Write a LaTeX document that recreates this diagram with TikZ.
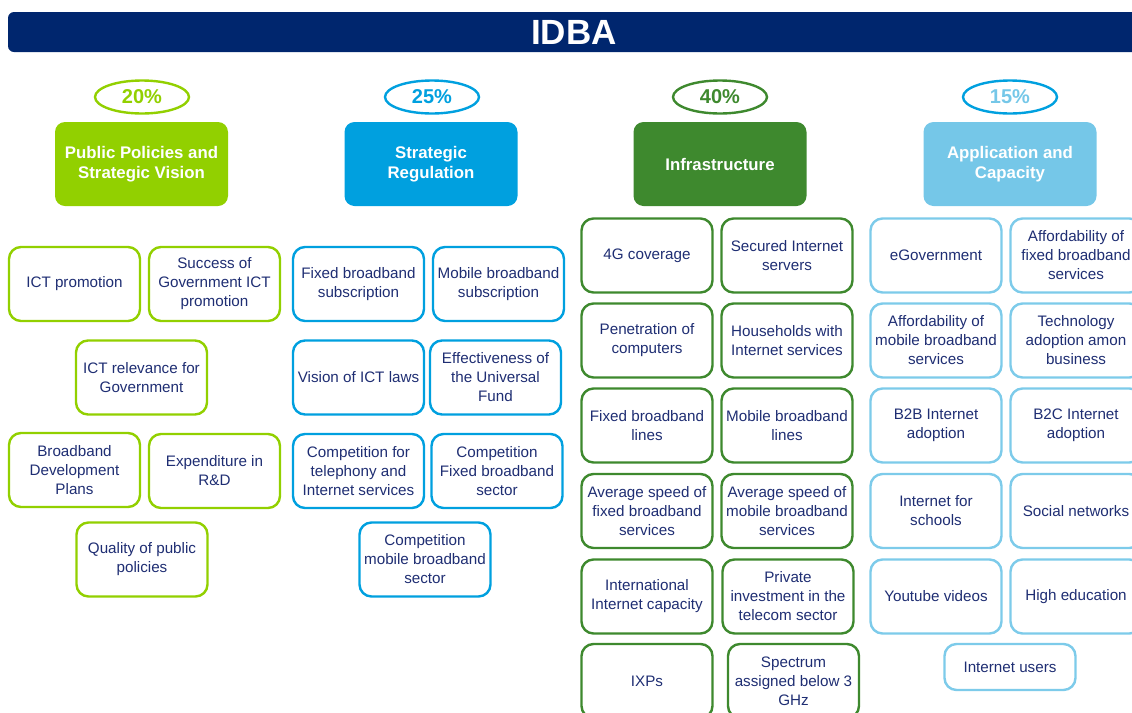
\documentclass[tikz,border=0pt]{standalone}
\usepackage{fontspec}
\setmainfont{Liberation Sans}
\usepackage{tikz}
\usetikzlibrary{shapes.geometric}
\definecolor{idbanavy}{RGB}{0,38,110}
\definecolor{txtnavy}{RGB}{31,46,115}
\definecolor{limeC}{RGB}{146,208,0}
\definecolor{blueC}{RGB}{0,160,223}
\definecolor{greenC}{RGB}{62,137,46}
\definecolor{lblueC}{RGB}{117,199,232}
\definecolor{lblueB}{RGB}{125,203,234}

\begin{document}
\begin{tikzpicture}[
    x=0.5pt, y=-0.5pt,
    headbar/.style={fill=idbanavy, rounded corners=3pt, minimum width=566pt, minimum height=20pt,
        text=white, font=\bfseries\fontsize{17.5}{17.5}\selectfont},
    pct/.style={ellipse, draw, line width=1.2pt, minimum width=47pt, minimum height=16.5pt,
        inner sep=0pt, font=\bfseries\fontsize{10}{10}\selectfont},
    cat/.style={rounded corners=5pt, minimum width=86.5pt, minimum height=42pt, inner sep=1pt,
        text=white, align=center, font=\bfseries\fontsize{8.4}{10}\selectfont},
    item/.style={draw, line width=1.2pt, rounded corners=6pt, fill=white, minimum width=65.5pt,
        minimum height=37pt, inner sep=1pt, align=center, text=txtnavy,
        font=\fontsize{7.6}{9.5}\selectfont}
]
\useasboundingbox (0,0) rectangle (1132,713);

% Titulo
\node[headbar] (idba) at (574,32) {IDBA};

% Pesos
\node[pct, draw=limeC, text=limeC] (w-pp) at (142,97) {20\%};
\node[pct, draw=blueC, text=blueC] (w-sr) at (432,97) {25\%};
\node[pct, draw=greenC, text=greenC] (w-in) at (720,97) {40\%};
\node[pct, draw=blueC, text=lblueC] (w-ac) at (1010,97) {15\%};

% Pilares
\node[cat, fill=limeC] (pp) at (141.5,164) {Public Policies and\\Strategic Vision};
\node[cat, fill=blueC] (sr) at (431,164) {Strategic\\Regulation};
\node[cat, fill=greenC] (in) at (720,164) {Infrastructure};
\node[cat, fill=lblueC] (ac) at (1010,164) {Application and\\Capacity};

% Indicadores: politicas publicas
\foreach \nm/\x/\y/\txt in {1/74.5/284/{ICT promotion},
    2/214.5/284/{Success of\\Government ICT\\promotion},
    3/141.5/377.5/{ICT relevance for\\Government},
    4/74.5/470/{Broadband\\Development\\Plans},
    5/214.5/471/{Expenditure in\\R\&D},
    6/142/559.5/{Quality of public\\policies}} {
    \node[item, draw=limeC] (pp-\nm) at (\x,\y) {\txt};
}

% Indicadores: regulacion
\foreach \nm/\x/\y/\txt in {1/358.5/284/{Fixed broadband\\subscription},
    2/498.5/284/{Mobile broadband\\subscription},
    3/358.5/377.5/{Vision of ICT laws},
    4/495.5/377.5/{Effectiveness of\\the Universal\\Fund},
    5/358.5/471/{Competition for\\telephony and\\Internet services},
    6/497/471/{Competition\\Fixed broadband\\sector},
    7/425/559.5/{Competition\\mobile broadband\\sector}} {
    \node[item, draw=blueC] (sr-\nm) at (\x,\y) {\txt};
}

% Indicadores: infraestructura
\foreach \nm/\x/\y/\txt in {1/647/255.5/{4G coverage},
    2/787/255.5/{Secured Internet\\servers},
    3/647/340.5/{Penetration of\\computers},
    4/787/340.5/{Households with\\Internet services},
    5/647/425.5/{Fixed broadband\\lines},
    6/787/425.5/{Mobile broadband\\lines},
    7/647/511/{Average speed of\\fixed broadband\\services},
    8/787/511/{Average speed of\\mobile broadband\\services},
    9/647/596.5/{International\\Internet capacity},
    10/788/596.5/{Private\\investment in the\\telecom sector},
    11/647/681/{IXPs},
    12/793.5/681/{Spectrum\\assigned below 3\\GHz}} {
    \node[item, draw=greenC] (in-\nm) at (\x,\y) {\txt};
}

% Indicadores: aplicaciones
\foreach \nm/\x/\y/\txt in {1/936/255.5/{eGovernment},
    2/1076/255.5/{Affordability of\\fixed broadband\\services},
    3/936/340.5/{Affordability of\\mobile broadband\\services},
    4/1076/340.5/{Technology\\adoption amon\\business},
    5/936/425.5/{B2B Internet\\adoption},
    6/1076/425.5/{B2C Internet\\adoption},
    7/936/511/{Internet for\\schools},
    8/1076/511/{Social networks},
    9/936/596.5/{Youtube videos},
    10/1076/596.5/{High education}} {
    \node[item, draw=lblueB] (ac-\nm) at (\x,\y) {\txt};
}
\node[item, draw=lblueB, minimum height=23pt] (ac-11) at (1010,667) {Internet users};

\end{tikzpicture}
\end{document}
